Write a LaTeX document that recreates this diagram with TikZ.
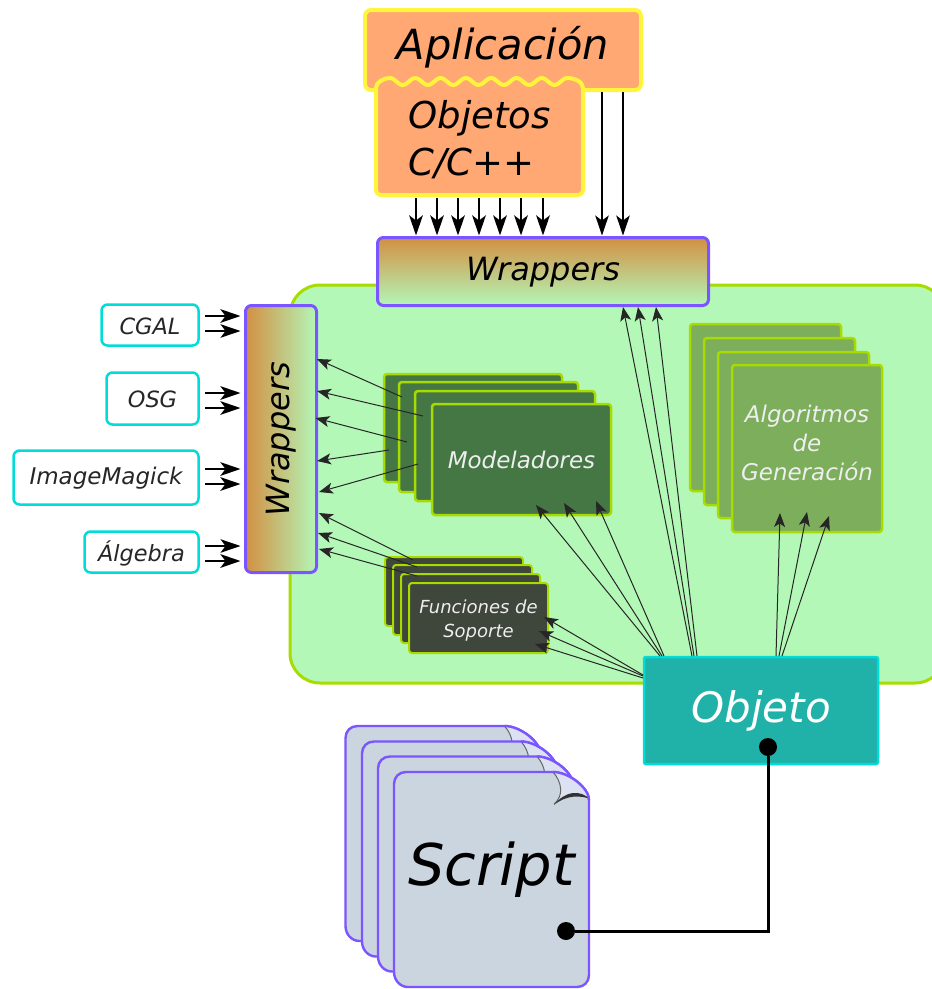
\documentclass[tikz,border=0pt]{standalone}
\usepackage{fontspec}
\setmainfont{DejaVu Sans}
\usetikzlibrary{arrows.meta,calc}
\definecolor{panelfill}{HTML}{B4F8B8}
\definecolor{panelline}{HTML}{A8DC00}
\definecolor{orangefill}{HTML}{FFA873}
\definecolor{yellowline}{HTML}{FFF53C}
\definecolor{purpleline}{HTML}{7B55FF}
\definecolor{wrapa}{HTML}{D29043}
\definecolor{wrapb}{HTML}{B4F6B8}
\definecolor{cyanline}{HTML}{00DDD8}
\definecolor{modfill}{HTML}{457745}
\definecolor{algfill}{HTML}{7CAE5C}
\definecolor{funfill}{HTML}{3F463C}
\definecolor{objfill}{HTML}{20B1A8}
\definecolor{sheetfill}{HTML}{CBD5DF}
\definecolor{foldfill}{HTML}{DDE2F2}
\definecolor{softwhite}{HTML}{EEEEEE}
\tikzset{
  area/.code n args={4}{\pgfkeysalso{at={({(#1+#3)/2},{(#2+#4)/2})},minimum width={(#3)-(#1)},minimum height={(#4)-(#2)}}},
  plainbox/.style={rectangle,inner sep=0pt,outer sep=0pt},
  txt/.style={font=\fontsize{#1}{#1}\selectfont\itshape},
  txtl/.style 2 args={font=\fontsize{#1}{#2}\selectfont\itshape},
  bl/.style={text height={2*(#1)},text depth=0pt},
  appbox/.style={plainbox,draw=yellowline,fill=orangefill,line width=4pt,rounded corners=6pt},
  wrapbox/.style={plainbox,draw=purpleline,line width=3pt,rounded corners=6pt},
  libbox/.style={plainbox,draw=cyanline,fill=white,line width=2.5pt,rounded corners=6pt,text=black!85},
  modcard/.style={plainbox,draw=panelline,fill=modfill,line width=2.5pt,rounded corners=3pt},
  algcard/.style={plainbox,draw=panelline,fill=algfill,line width=2.5pt,rounded corners=3pt},
  funcard/.style={plainbox,draw=panelline,fill=funfill,line width=2pt,rounded corners=3pt},
  objbox/.style={plainbox,draw=cyanline,fill=objfill,line width=2.5pt,rounded corners=2pt,text=white},
  fatarr/.style={draw=black,line width=2.8pt,-{Stealth[length=20pt,width=13.5pt,inset=5pt]}},
  midarr/.style={draw=black,line width=1.3pt,-{Stealth[length=20pt,width=13.5pt,inset=5pt]}},
  thinarr/.style={draw=black!85,line width=1pt,-{Stealth[length=14pt,width=11pt,inset=3.5pt]}},
  dotnode/.style={circle,fill=black,inner sep=0pt,outer sep=0pt,minimum size=18pt},
  sheetline/.style={draw=purpleline,line width=2.4pt,line join=round}
}
\newcommand{\lnk}[6]{\draw[thinarr] ($(#1.north west)+(#2,#3)$) -- ($(#4.north west)+(#5,#6)$);}
\newcommand{\sheetshape}[2]{%
  \begin{scope}[shift={(#1,#2)}]
    \path[sheetline,fill=sheetfill] (12,0) -- (159,0) .. controls (175,0) and (195,16) .. (195,28) -- (195,203)
      .. controls (195,210) and (190,215) .. (183,215) -- (14,215)
      .. controls (6,215) and (0,208) .. (0,200) -- (0,12) .. controls (0,5) and (5,0) .. (12,0) -- cycle;
    \path[fill=foldfill] (159,0) .. controls (175,0) and (195,16) .. (195,28)
      .. controls (185,20) and (172,20) .. (160,32) .. controls (170,24) and (168,10) .. (159,0) -- cycle;
    \draw[black!60,line width=1pt] (159,0) .. controls (168,10) and (170,24) .. (160,32);
    \fill[black!80] (160,33) .. controls (172,18) and (186,18) .. (196,27) .. controls (186,23) and (172,23) .. (160,33) -- cycle;
    \path[sheetline] (159,0) .. controls (175,0) and (195,16) .. (195,28);
  \end{scope}}
\begin{document}
\begin{tikzpicture}[x=1pt,y=-1pt]
\useasboundingbox (0,0) rectangle (932,989);
% main panel
\draw[panelline,fill=panelfill,line width=3pt,rounded corners=30pt] (290,285) rectangle (945,683);
% application
\node[appbox,area={365}{10}{641}{90},txt=41.5,bl=9] (app) {Aplicación};
\draw[yellowline,fill=orangefill,line width=4pt,line join=round]
  (376,189) -- (376,88) .. controls (376,82) and (384,78) .. (390,78)
  -- plot[domain=390:567,samples=80] (\x,{81.5-3.5*cos(14.229*(\x-390))})
  .. controls (575,78) and (583,82) .. (583,88) -- (583,189)
  .. controls (583,193) and (581,195) .. (577,195) -- (382,195)
  .. controls (378,195) and (376,193) .. (376,189) -- cycle;
\node[plainbox,area={376}{82}{583}{195},txtl={37}{47},align=left,bl=36.5] (objc) {Objetos\\C/C++};
% wrappers
\node[wrapbox,area={377.5}{237.5}{708.5}{305.5},top color=wrapa,bottom color=wrapb,txt=32,bl=8.5] (wt) {Wrappers};
\node[wrapbox,area={245.5}{305.5}{316.5}{572.5},left color=wrapa,right color=wrapb,txt=32] (wl) {\rotatebox{90}{Wrappers}};
% libraries
\node[libbox,area={101.5}{304.5}{198.5}{345.5},txt=22.4,bl=9] (cgal) {CGAL};
\node[libbox,area={106.5}{372.5}{198.5}{424.5},txt=22.4,bl=8.5] (osg) {OSG};
\node[libbox,area={13.5}{450.5}{198.5}{504.5},txt=23,bl=6.5] (imk) {ImageMagick};
\node[libbox,area={84.5}{531.5}{198.5}{572.5},txt=22.4,bl=9] (alg) {Álgebra};
% modeladores
\node[modcard,area={384}{374}{562}{482}] (m1) {};
\node[modcard,area={399}{382}{578}{492}] (m2) {};
\node[modcard,area={415}{391}{595}{501}] (m3) {};
\node[modcard,area={432}{404}{611}{515},txt=23,bl=8.5,text=softwhite] (m4) {Modeladores};
% algoritmos
\node[algcard,area={690}{324}{841}{491}] (a1) {};
\node[algcard,area={704}{338}{855}{505}] (a2) {};
\node[algcard,area={718}{352}{869}{518}] (a3) {};
\node[algcard,area={732}{365}{882}{532},txtl={23}{29},align=center,text=softwhite,bl=31.5] (a4) {Algoritmos\\de\\Generación};
% funciones
\node[funcard,area={385}{557}{523}{626}] (f1) {};
\node[funcard,area={393}{565}{532}{635}] (f2) {};
\node[funcard,area={401}{574}{540}{643}] (f3) {};
\node[funcard,area={409}{583}{548}{653},txtl={18}{24},align=center,text=softwhite,bl=19] (f4) {Funciones de\\Soporte};
% objeto
\node[objbox,area={644}{657}{878}{764},txt=42,bl=11.5] (obj) {Objeto};
% script sheets
\sheetshape{345.5}{726}
\sheetshape{362}{741.5}
\sheetshape{378}{756.5}
\sheetshape{394}{772}
\node[plainbox,area={394}{772}{589}{987},txt=57.5,anchor=center,bl=5.5] (scr) {Script};
% dots and link
\node[dotnode] (d1) at (768,747) {};
\node[dotnode] (d2) at (566,931) {};
\draw[black,line width=3pt] (d1) |- (d2);
% arrows objects -> wrappers
\foreach \d in {40,61,82,103,124,145,167}
  \draw[fatarr] ($(objc.south west)+(\d,3)$) -- ($(wt.north west)+({\d-1.5},-2)$);
\foreach \d in {237,258}
  \draw[midarr] ($(app.south west)+(\d,2)$) -- ($(wt.north west)+({\d-12.5},-2)$);
% libraries -> wrappers
\draw[fatarr] ($(cgal.north west)+(103.5,11.5)$) -- ($(wl.north west)+(-5,10.5)$);
\draw[midarr] ($(cgal.north west)+(103.5,26.5)$) -- ($(wl.north west)+(-5,25.5)$);
\draw[fatarr] ($(osg.north west)+(98.5,20.5)$) -- ($(wl.north west)+(-5,87.5)$);
\draw[fatarr] ($(osg.north west)+(98.5,35.5)$) -- ($(wl.north west)+(-5,102.5)$);
\draw[fatarr] ($(imk.north west)+(191.5,18.5)$) -- ($(wl.north west)+(-5,163.5)$);
\draw[fatarr] ($(imk.north west)+(191.5,33.5)$) -- ($(wl.north west)+(-5,178.5)$);
\draw[midarr] ($(alg.north west)+(120.5,14.5)$) -- ($(wl.north west)+(-5,240.5)$);
\draw[fatarr] ($(alg.north west)+(120.5,29.5)$) -- ($(wl.north west)+(-5,255.5)$);
% modeladores -> wrappers
\lnk{m1}{18}{23}{wl}{71.5}{53.5}
\lnk{m2}{24}{34}{wl}{71.5}{85.5}
\lnk{m2}{8}{60}{wl}{70}{112.5}
\lnk{m1}{5}{76}{wl}{71.5}{155.5}
\lnk{m3}{3}{73}{wl}{73.5}{186.5}
% funciones -> wrappers
\lnk{f1}{28}{3}{wl}{73.5}{207.5}
\lnk{f2}{24}{2}{wl}{72.5}{227.5}
\lnk{f3}{16}{2}{wl}{73.5}{243.5}
% objeto -> wrappers
\lnk{obj}{48}{-1}{wt}{245.5}{69.5}
\lnk{obj}{50}{-1}{wt}{260.5}{69.5}
\lnk{obj}{53}{-1}{wt}{278.5}{69.5}
% objeto -> algoritmos
\lnk{obj}{132}{-1}{a4}{48}{148}
\lnk{obj}{135}{-1}{a4}{75}{147}
\lnk{obj}{138}{-1}{a4}{97}{151}
% objeto -> modeladores
\lnk{obj}{16}{-1}{m4}{104}{101}
\lnk{obj}{18}{-1}{m4}{132}{99}
\lnk{obj}{20}{-1}{m4}{164}{97}
% objeto -> funciones
\lnk{obj}{-1}{18}{f4}{135}{34}
\lnk{obj}{-1}{19}{f4}{130}{48}
\lnk{obj}{-1}{21}{f4}{126}{61}
\end{tikzpicture}
\end{document}
